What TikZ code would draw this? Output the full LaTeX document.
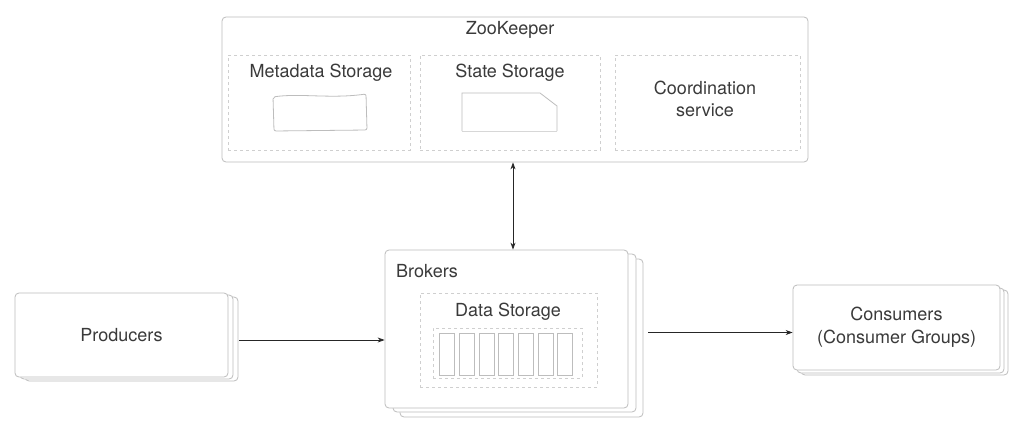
\documentclass[tikz,border=0pt]{standalone}
\usepackage{fontspec}
\setmainfont{TeX Gyre Heros}
\usetikzlibrary{arrows.meta,calc}
\definecolor{txt}{HTML}{3A3A3A}
\definecolor{edge}{HTML}{BDBDBD}
\definecolor{dedge}{HTML}{CFCFCF}
\definecolor{arrc}{HTML}{262626}
\tikzset{
  box/.style={draw=edge, line width=0.8pt, fill=white, rounded corners=4pt, inner sep=0pt, text=txt, font=\fontsize{18}{23}\selectfont, align=center},
  dbox/.style={draw=dedge, line width=0.8pt, dash pattern=on 3pt off 3pt, inner sep=0pt},
  lbl/.style={text=txt, font=\fontsize{18}{22}\selectfont, align=center, inner sep=0pt},
  icon/.style={draw=edge, line width=0.8pt},
  cell/.style={draw=edge, line width=0.8pt, minimum width=15pt, minimum height=42pt, inner sep=0pt},
  conn/.style={draw=arrc, line width=0.8pt, -{Stealth[length=7pt,width=5pt]}},
  conn2/.style={draw=arrc, line width=0.8pt, {Stealth[length=7pt,width=5pt]}-{Stealth[length=7pt,width=5pt]}}
}
\begin{document}
\begin{tikzpicture}[x=1pt,y=-1pt]
\useasboundingbox[fill=white] (0,0) rectangle (1024,428);
% ZooKeeper
\node[box, minimum width=586pt, minimum height=145pt] (zk) at (515,89.5) {};
\node[lbl] (zkt) at (510,30) {ZooKeeper};
\node[dbox, minimum width=182pt, minimum height=95pt] (mds) at (319,102.5) {};
\node[dbox, minimum width=180pt, minimum height=95pt] (sts) at (510,102.5) {};
\node[dbox, minimum width=185pt, minimum height=95pt] (cos) at (707.5,102.5) {};
\node[lbl] (mdt) at (321,73) {Metadata Storage};
\node[lbl] (stt) at (510,73) {State Storage};
\node[lbl] (cot) at (705,99) {Coordination\\service};
% metadata icon (banner-like box)
\draw[icon, rounded corners=2pt] (273,97) .. controls (300,93) and (330,99) .. (366,94) -- (367,130) -- (274,131) -- cycle;
% state icon (document with cut corner)
\draw[icon] (462,131) -- (462,93) -- (540,93) -- (557,106) -- (557,131);
\draw[icon, draw=edge!60] (462,131) -- (557,131);
% Brokers
\node[box, minimum width=243pt, minimum height=158pt] (brk3) at (521.5,338) {};
\node[box, minimum width=243pt, minimum height=158pt] (brk2) at (514.5,333) {};
\node[box, minimum width=243pt, minimum height=158pt] (brk) at (506.5,329) {};
\node[lbl, anchor=west] (brkt) at (396,271) {Brokers};
\node[dbox, minimum width=177pt, minimum height=94pt] (ds) at (508.5,340) {};
\node[lbl] (dst) at (508,312) {Data Storage};
\node[dbox, minimum width=149pt, minimum height=50pt] (dsi) at (507.5,353) {};
\foreach \i in {0,...,6}{
  \node[cell] (c\i) at (447+19.7*\i,354) {};
}
% Producers
\node[box, minimum width=213pt, minimum height=84pt] (prod3) at (131.5,339) {};
\node[box, minimum width=213pt, minimum height=84pt] (prod2) at (126.5,337) {};
\node[box, minimum width=213pt, minimum height=84pt] (prod) at (121.5,335) {Producers};
% Consumers
\node[box, minimum width=207pt, minimum height=85pt] (cons3) at (904.5,332.5) {};
\node[box, minimum width=207pt, minimum height=85pt] (cons2) at (900.5,330.5) {};
\node[box, minimum width=207pt, minimum height=85pt] (cons) at (896.5,327.5) {Consumers\\(Consumer Groups)};
% connectors
\draw[conn2] ([xshift=6.5pt]brk.north |- zk.south) -- ([xshift=6.5pt]brk.north);
\draw[conn] ([xshift=1pt,yshift=-1pt]prod3.east) -- ([yshift=-1pt]prod3.east -| brk.west);
\draw[conn] ([xshift=5pt]brk3.east |- cons.west) ++(0,5) -- ([yshift=-5pt]cons.west);
\end{tikzpicture}
\end{document}
